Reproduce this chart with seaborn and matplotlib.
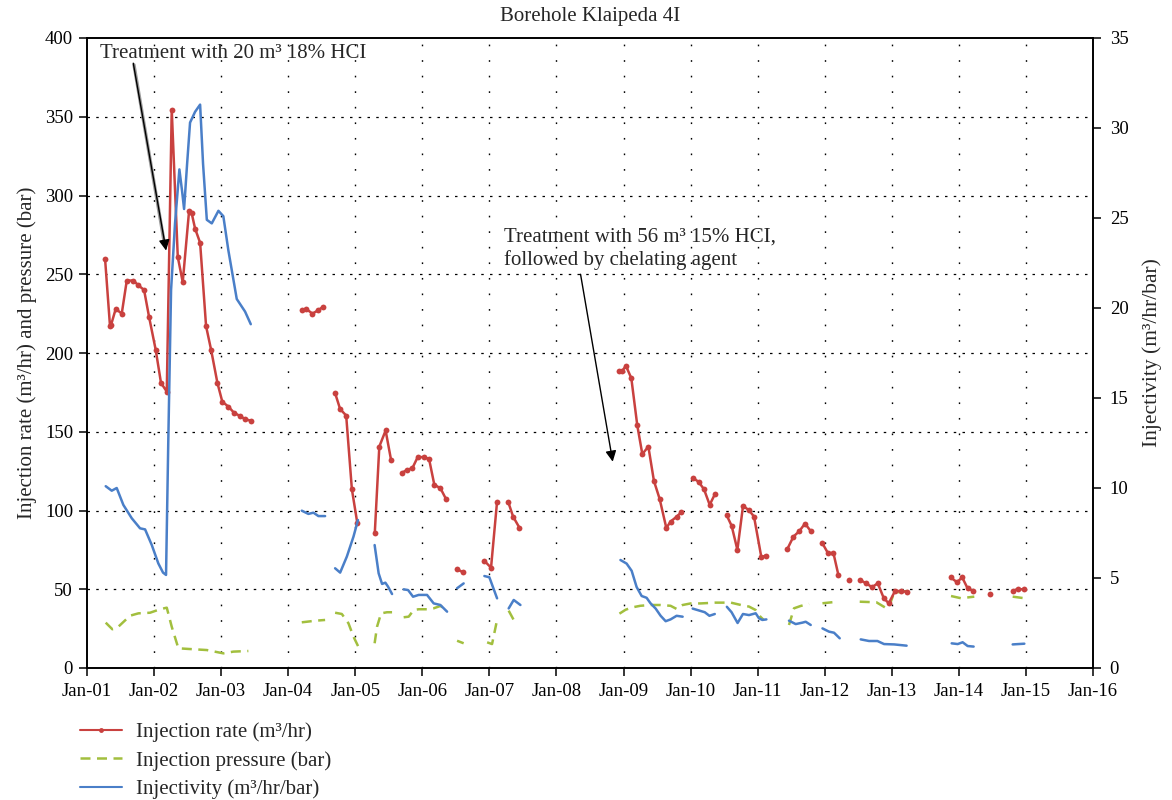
import numpy as np
import pandas as pd
import matplotlib
matplotlib.use("Agg")
import matplotlib.pyplot as plt
import matplotlib.dates as mdates
from matplotlib.lines import Line2D
import seaborn as sns

# ---------------- data (decimal years, values, segment ids) ----------------
rate_t = [2001.269, 2001.343, 2001.36, 2001.428, 2001.518, 2001.593, 2001.691, 2001.766, 2001.851,
          2001.925, 2002.025, 2002.104, 2002.190, 2002.264, 2002.354, 2002.428, 2002.522, 2002.56,
          2002.612, 2002.687, 2002.776, 2002.851, 2002.945, 2003.019, 2003.109, 2003.194, 2003.284,
          2003.358, 2003.443,
          2004.204, 2004.269, 2004.363, 2004.443, 2004.527,
          2004.701, 2004.776, 2004.866, 2004.951, 2005.030,
          2005.291, 2005.358, 2005.452, 2005.533,
          2005.697, 2005.772, 2005.851, 2005.930, 2006.019, 2006.100, 2006.179, 2006.269, 2006.354,
          2006.518, 2006.607,
          2006.925, 2007.025, 2007.115,
          2007.279, 2007.354, 2007.448,
          2008.940, 2008.98, 2009.034, 2009.115, 2009.204, 2009.279, 2009.369, 2009.452, 2009.537,
          2009.637, 2009.701, 2009.791, 2009.861,
          2010.034, 2010.119, 2010.199, 2010.284, 2010.363,
          2010.537, 2010.612, 2010.697, 2010.781, 2010.870, 2010.945, 2011.055, 2011.119,
          2011.443, 2011.533, 2011.619, 2011.706, 2011.793,
          2011.965, 2012.049, 2012.130, 2012.204,
          2012.369,
          2012.527, 2012.616, 2012.706, 2012.791, 2012.881, 2012.955, 2013.049, 2013.134, 2013.219,
          2013.876, 2013.970, 2014.049, 2014.130, 2014.213,
          2014.467,
          2014.801, 2014.876, 2014.966]
rate_v = [260, 217, 218, 228, 225, 246, 246, 243, 240,
          223, 202, 181, 175.5, 354.5, 261, 245, 290, 289,
          279, 270, 217, 202, 181, 169, 166, 162, 160,
          158, 157,
          227, 228, 225, 227, 229.5,
          174.5, 164.4, 160.3, 113.5, 92,
          86, 140.6, 150.8, 132.1,
          124, 125.8, 126.9, 133.9, 133.9, 132.8, 116.3, 114.2, 107.2,
          62.7, 60.8,
          68, 63.7, 105.7,
          105.7, 96.1, 89.1,
          188.7, 188.5, 191.9, 184, 154, 135.8, 140.6, 118.8, 107.4,
          88.9, 93, 96.1, 98.9,
          120.7, 118.2, 113.5, 103.6, 110.5,
          97, 90.2, 75, 102.9, 100.2, 96.1, 70.3, 71.4,
          75.6, 83.4, 86.8, 91.7, 86.8,
          79.2, 72.9, 73, 59.1,
          55.9,
          55.9, 53.8, 51.3, 53.8, 44.3, 41.1, 49.1, 48.7, 48.5,
          57.5, 54.5, 57.5, 50.5, 49,
          46.8,
          49.1, 50, 50]
rate_seg = ([1] * 29 + [2] * 5 + [3] * 5 + [4] * 4 + [5] * 9 + [6] * 2 + [7] * 3 + [8] * 3 +
            [9] * 13 + [10] * 5 + [11] * 8 + [12] * 5 + [13] * 4 + [14] * 1 + [15] * 9 +
            [16] * 5 + [17] * 1 + [18] * 3)

press_t = [2001.279, 2001.378, 2001.467, 2001.642, 2001.766, 2001.940, 2002.090, 2002.190, 2002.264,
           2002.363, 2002.512, 2002.787, 2003.034, 2003.184, 2003.407,
           2004.204, 2004.403, 2004.552,
           2004.701, 2004.801, 2004.900, 2004.975, 2005.049,
           2005.288, 2005.324, 2005.384, 2005.473, 2005.548,
           2005.721, 2005.796, 2005.870, 2005.945, 2006.070, 2006.169, 2006.269, 2006.369,
           2006.518, 2006.616,
           2006.966, 2007.040, 2007.115,
           2007.288, 2007.363, 2007.413,
           2008.94, 2009.03, 2009.13, 2009.25, 2009.40, 2009.55, 2009.70, 2009.79, 2009.88, 2010.0,
           2010.15, 2010.37, 2010.60, 2010.75, 2010.87, 2010.97, 2011.04, 2011.09,
           2011.467, 2011.542, 2011.642, 2011.766,
           2011.966, 2012.190,
           2012.522, 2012.772, 2012.921, 2012.960, 2013.030, 2013.134, 2013.234,
           2013.881, 2014.030, 2014.229,
           2014.801, 2014.975]
press_v = [28.8, 24.6, 26.2, 33.2, 34.7, 35.1, 37.3, 38.3, 26.2,
           12.5, 12.1, 11.4, 9.3, 10.4, 10.8,
           29, 30, 30.5,
           35.1, 34.3, 28.4, 19.9, 13.2,
           15.7, 26.2, 34.7, 35.4, 35.4,
           32.2, 32.6, 36.8, 37.3, 37.3, 37.9, 39.4, 36.8,
           17.3, 15.7,
           16.3, 15.2, 30.5,
           36.4, 30.5, 28.4,
           34.5, 37, 38.5, 39.5, 40, 40, 39.5, 37.5, 40, 41,
           41, 41.5, 41.5, 40, 39, 36.8, 32.6, 30.5,
           27.3, 37.9, 39.4, 40.7,
           41.1, 42.1,
           42.1, 41.7, 37.9, 39, 47.5, 48.5, 48.9,
           45.7, 44.3, 45.3,
           45.3, 44.3]
press_seg = ([1] * 15 + [2] * 3 + [3] * 5 + [4] * 5 + [5] * 8 + [6] * 2 + [7] * 3 + [8] * 3 +
             [9] * 18 + [10] * 4 + [11] * 2 + [12] * 7 + [13] * 3 + [14] * 2)

inj_t = [2001.279, 2001.369, 2001.443, 2001.542, 2001.667, 2001.791, 2001.866, 2001.966, 2002.064,
         2002.134, 2002.179, 2002.213, 2002.254, 2002.313, 2002.378, 2002.418, 2002.448, 2002.493,
         2002.537, 2002.612, 2002.687, 2002.731, 2002.787, 2002.861, 2002.960, 2003.034, 2003.109,
         2003.160, 2003.234, 2003.358, 2003.443,
         2004.204, 2004.303, 2004.378, 2004.452, 2004.552,
         2004.701, 2004.776, 2004.876, 2004.975, 2005.040,
         2005.288, 2005.348, 2005.399, 2005.448, 2005.488, 2005.548,
         2005.721, 2005.787, 2005.861, 2005.945, 2006.070, 2006.169, 2006.269, 2006.369,
         2006.518, 2006.616,
         2006.925, 2007.0, 2007.115,
         2007.288, 2007.363, 2007.463,
         2008.955, 2009.045, 2009.12, 2009.194, 2009.269, 2009.343, 2009.40, 2009.478, 2009.552,
         2009.627, 2009.70, 2009.79, 2009.88,
         2010.03, 2010.12, 2010.21, 2010.28, 2010.36,
         2010.54, 2010.61, 2010.70, 2010.78, 2010.87, 2010.97, 2011.02, 2011.07, 2011.13,
         2011.467, 2011.567, 2011.667, 2011.716, 2011.791,
         2011.966, 2012.064, 2012.139, 2012.224,
         2012.537, 2012.661, 2012.786, 2012.885, 2013.034, 2013.219,
         2013.891, 2013.981, 2014.055, 2014.130, 2014.219,
         2014.801, 2014.975]
inj_v = [10.1, 9.85, 10.0, 9.06, 8.32, 7.76, 7.7, 6.83, 5.81,
         5.3, 5.17, 12.7, 21, 24.7, 27.7, 26.5, 25.5, 28,
         30.3, 30.9, 31.3, 28, 24.9, 24.7, 25.4, 25.1, 23.2,
         22.1, 20.5, 19.8, 19.1,
         8.74, 8.56, 8.63, 8.44, 8.44,
         5.54, 5.30, 6.19, 7.30, 8.22,
         6.83, 5.26, 4.67, 4.74, 4.52, 4.11,
         4.37, 4.33, 3.96, 4.06, 4.06, 3.59, 3.5, 3.13,
         4.43, 4.7,
         5.11, 5.04, 3.87,
         3.31, 3.78, 3.5,
         6.0, 5.8, 5.4, 4.5, 4.0, 3.9, 3.6, 3.3, 2.9,
         2.6, 2.7, 2.9, 2.85,
         3.3, 3.2, 3.1, 2.9, 3.0,
         3.4, 3.1, 2.5, 3.0, 2.94, 3.04, 2.76, 2.67, 2.7,
         2.63, 2.44, 2.52, 2.57, 2.39,
         2.2, 2.02, 1.96, 1.65,
         1.59, 1.5, 1.5, 1.33, 1.31, 1.24,
         1.37, 1.33, 1.43, 1.22, 1.19,
         1.31, 1.35]
inj_seg = ([1] * 31 + [2] * 5 + [3] * 5 + [4] * 6 + [5] * 8 + [6] * 2 + [7] * 3 + [8] * 3 +
           [9] * 13 + [10] * 5 + [11] * 9 + [12] * 5 + [13] * 4 + [14] * 6 + [15] * 5 + [16] * 2)

x_tick_years = list(range(2001, 2017))
left_ticks = [0, 50, 100, 150, 200, 250, 300, 350, 400]
right_ticks = [0, 5, 10, 15, 20, 25, 30, 35]

title = "Borehole Klaipeda 4I"
note1 = "Treatment with 20 m³ 18% HCI"
note2 = "Treatment with 56 m³ 15% HCI,\nfollowed by chelating agent"


def to_dt(y):
    yr = int(np.floor(y))
    return pd.Timestamp(yr, 1, 1) + pd.Timedelta(days=(y - yr) * 365.25)


def frame(t, v, s):
    return pd.DataFrame({"date": [to_dt(x) for x in t], "value": v, "seg": s})


df_rate = frame(rate_t, rate_v, rate_seg)
df_press = frame(press_t, press_v, press_seg)
df_inj = frame(inj_t, inj_v, inj_seg)

# ---------------- style ----------------
sns.set_theme(style="white")
plt.rcParams["font.family"] = ["Liberation Serif", "DejaVu Serif"]
plt.rcParams["axes.edgecolor"] = "black"
plt.rcParams["axes.linewidth"] = 1.2

RED = "#C9413F"
GREEN = "#A2BF3E"
BLUE = "#4A7FC8"

fig = plt.figure(figsize=(11.72, 8), dpi=100)
ax = fig.add_axes([87 / 1172, 1 - 668 / 800, (1093 - 87) / 1172, (668 - 38) / 800])
ax2 = ax.twinx()

sns.lineplot(data=df_press, x="date", y="value", units="seg", estimator=None, color=GREEN,
             linestyle=(0, (4, 2.6)), lw=1.8, ax=ax, legend=False, sort=True)
sns.lineplot(data=df_rate, x="date", y="value", units="seg", estimator=None, color=RED,
             marker="o", markersize=4.2, markeredgewidth=0, lw=1.8, ax=ax, legend=False, sort=True)
sns.lineplot(data=df_inj, x="date", y="value", units="seg", estimator=None, color=BLUE,
             lw=1.8, ax=ax2, legend=False, sort=True)

ax.set_xlim(pd.Timestamp(2001, 1, 1), pd.Timestamp(2016, 1, 1))
ax.set_ylim(0, 400)
ax2.set_ylim(0, 35)
ax.set_xticks([pd.Timestamp(y, 1, 1) for y in x_tick_years])
ax.xaxis.set_major_formatter(mdates.DateFormatter("%b-%y"))
ax.set_yticks(left_ticks)
ax2.set_yticks(right_ticks)

ax.set_xlabel("")
ax.set_ylabel("Injection rate (m³/hr) and pressure (bar)", fontsize=15, labelpad=6)
ax2.set_ylabel("Injectivity (m³/hr/bar)", fontsize=15.5, labelpad=10)
ax2.yaxis.set_label_position("right")

for a in (ax, ax2):
    a.tick_params(axis="both", which="major", direction="out", length=6, width=1.1,
                  labelsize=13.5, colors="black")
ax.tick_params(axis="x", pad=5)
ax.tick_params(axis="y", pad=4)
ax2.tick_params(axis="y", pad=6)
ax.tick_params(left=True, bottom=True)
ax2.tick_params(right=True)

# grid (dotted)
ax.grid(False)
ax2.grid(False)
for y in left_ticks[1:-1]:
    ax.axhline(y, color="black", lw=0.9, linestyle=(0, (2, 5)), zorder=0)
for yr in x_tick_years[1:-1]:
    ax.axvline(pd.Timestamp(yr, 1, 1), color="black", lw=1.0, linestyle=(0, (1.2, 10)), zorder=0)

for sp in ax.spines.values():
    sp.set_visible(True)
    sp.set_color("black")

fig.text((87 + 1093) / 2 / 1172, 1 - 16 / 800, title, ha="center", va="center", fontsize=15)

# annotations
ax.text(to_dt(2001.19), 390, note1, fontsize=15, ha="left", va="center")
ax.annotate("", xy=(to_dt(2002.185), 262), xytext=(to_dt(2001.70), 383),
            arrowprops=dict(arrowstyle="-", color="#9a9a9a", lw=2.4, shrinkA=0, shrinkB=8))
ax.annotate("", xy=(to_dt(2002.18), 265), xytext=(to_dt(2001.69), 384),
            arrowprops=dict(arrowstyle="-|>", color="black", lw=1.0, mutation_scale=16,
                            shrinkA=0, shrinkB=0))

ax.text(to_dt(2007.22), 266, note2, fontsize=15, ha="left", va="center", linespacing=1.25)
ax.annotate("", xy=(to_dt(2008.84), 131), xytext=(to_dt(2008.36), 250),
            arrowprops=dict(arrowstyle="-|>", color="black", lw=1.0, mutation_scale=16,
                            shrinkA=0, shrinkB=0))

# legend
handles = [
    Line2D([], [], color=RED, lw=1.5, marker="o", markersize=3.5, markeredgewidth=0),
    Line2D([], [], color=GREEN, lw=1.8, linestyle=(0, (4, 2.6))),
    Line2D([], [], color=BLUE, lw=1.5),
]
labels = ["Injection rate (m³/hr)", "Injection pressure (bar)", "Injectivity (m³/hr/bar)"]
fig.legend(handles, labels, loc="upper left", bbox_to_anchor=(72 / 1172, 1 - 714 / 800),
           frameon=False, fontsize=15, handlelength=2.0, handletextpad=0.65, labelspacing=0.42,
           borderaxespad=0, borderpad=0.4)

fig.savefig("out.png", dpi=100)
